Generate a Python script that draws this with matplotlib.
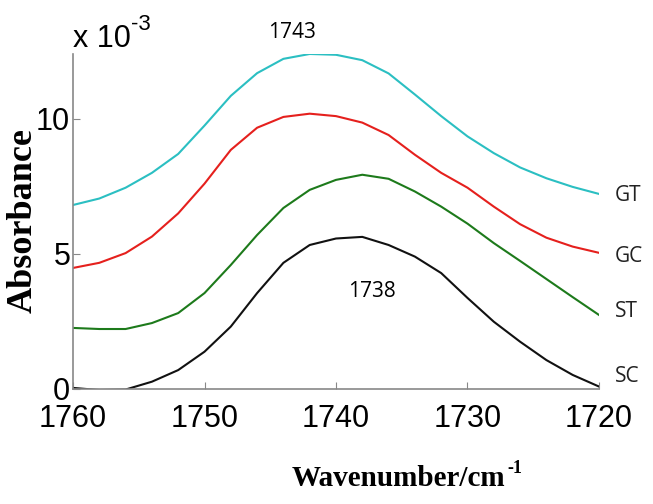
import matplotlib.pyplot as plt

# wavenumber (cm-1) and absorbance in units of 1e-3
wn = [1760, 1758, 1756, 1754, 1752, 1750, 1748, 1746, 1744, 1742, 1740,
      1738, 1736, 1734, 1732, 1730, 1728, 1726, 1724, 1722, 1720]

gt = [6.81, 7.05, 7.45, 8.0, 8.7, 9.75, 10.85, 11.69, 12.22, 12.4, 12.37,
      12.17, 11.68, 10.9, 10.1, 9.35, 8.73, 8.2, 7.8, 7.48, 7.22]
gc = [4.48, 4.67, 5.03, 5.64, 6.5, 7.6, 8.85, 9.67, 10.07, 10.19, 10.1,
      9.86, 9.4, 8.67, 8.0, 7.45, 6.75, 6.1, 5.6, 5.27, 5.04]
st = [2.26, 2.22, 2.22, 2.44, 2.81, 3.55, 4.59, 5.7, 6.7, 7.37, 7.74,
      7.93, 7.78, 7.31, 6.75, 6.12, 5.4, 4.74, 4.07, 3.4, 2.74]
sc = [0.04, -0.04, -0.02, 0.27, 0.7, 1.38, 2.31, 3.55, 4.67, 5.33, 5.57,
      5.63, 5.33, 4.9, 4.29, 3.37, 2.49, 1.75, 1.07, 0.52, 0.09]

names = ['GT', 'GC', 'ST', 'SC']
colors = ['#2bbfc2', '#e5201d', '#1d7a1b', '#111111']
label_y = [7.15, 4.9, 2.86, 0.48]   # where the sample names sit at the right edge

xticks = [1760, 1750, 1740, 1730, 1720]
yticks = [0, 5, 10]

fig = plt.figure(figsize=(6.53, 5.04), dpi=100)
ax = fig.add_axes([0.1118, 0.2282, 0.8055, 0.6647])

for vals, col in zip([gt, gc, st, sc], colors):
    ax.plot(wn, vals, color=col, lw=1.5)

for name, ly in zip(names, label_y):
    ax.text(1718.8, ly, name, fontsize=15, family='Open Sans',
            va='center', ha='left', color='#222222', clip_on=False)

ax.set_xlim(1760, 1720)
ax.set_ylim(0, 12.4)
ax.set_xticks(xticks)
ax.set_yticks(yticks)
ax.set_xticklabels([str(t) for t in xticks], family='Liberation Sans', fontsize=22)
ax.set_yticklabels([str(t) for t in yticks], family='Liberation Sans', fontsize=22)
ax.tick_params(direction='in', length=5, color='#888888')
ax.tick_params(axis='x', pad=11)
ax.tick_params(axis='y', pad=2)
for s in ['top', 'right']:
    ax.spines[s].set_visible(False)
for s in ['left', 'bottom']:
    ax.spines[s].set_color('#888888')
    ax.spines[s].set_linewidth(1.2)

# peak annotations
ax.text(1743.35, 13.2, '1743', fontsize=15, family='Open Sans', ha='center', va='center',
        clip_on=False)
ax.text(1737.26, 3.6, '1738', fontsize=15, family='Open Sans', ha='center', va='center')

# axis scale factor "x 10^-3"
fig.text(0.112, 0.906, 'x 10', fontsize=22, family='Liberation Sans', va='baseline')
fig.text(0.201, 0.94, '-3', fontsize=16, family='Liberation Sans', va='baseline')

fig.text(0.035, 0.563, 'Absorbance', rotation=90, fontsize=26, fontweight='bold',
         family='Liberation Serif', ha='center', va='center')

xl = fig.text(292 / 653, 0.036, 'Wavenumber/cm', fontsize=21, fontweight='bold',
              family='Liberation Serif', ha='left', va='baseline')
fig.canvas.draw()
bb = xl.get_window_extent()
fig.text(bb.x1 / 653 + 0.002, 0.062, '-1', fontsize=13, fontweight='bold',
         family='Liberation Serif', ha='left', va='baseline')

fig.savefig('out.png', dpi=100)
